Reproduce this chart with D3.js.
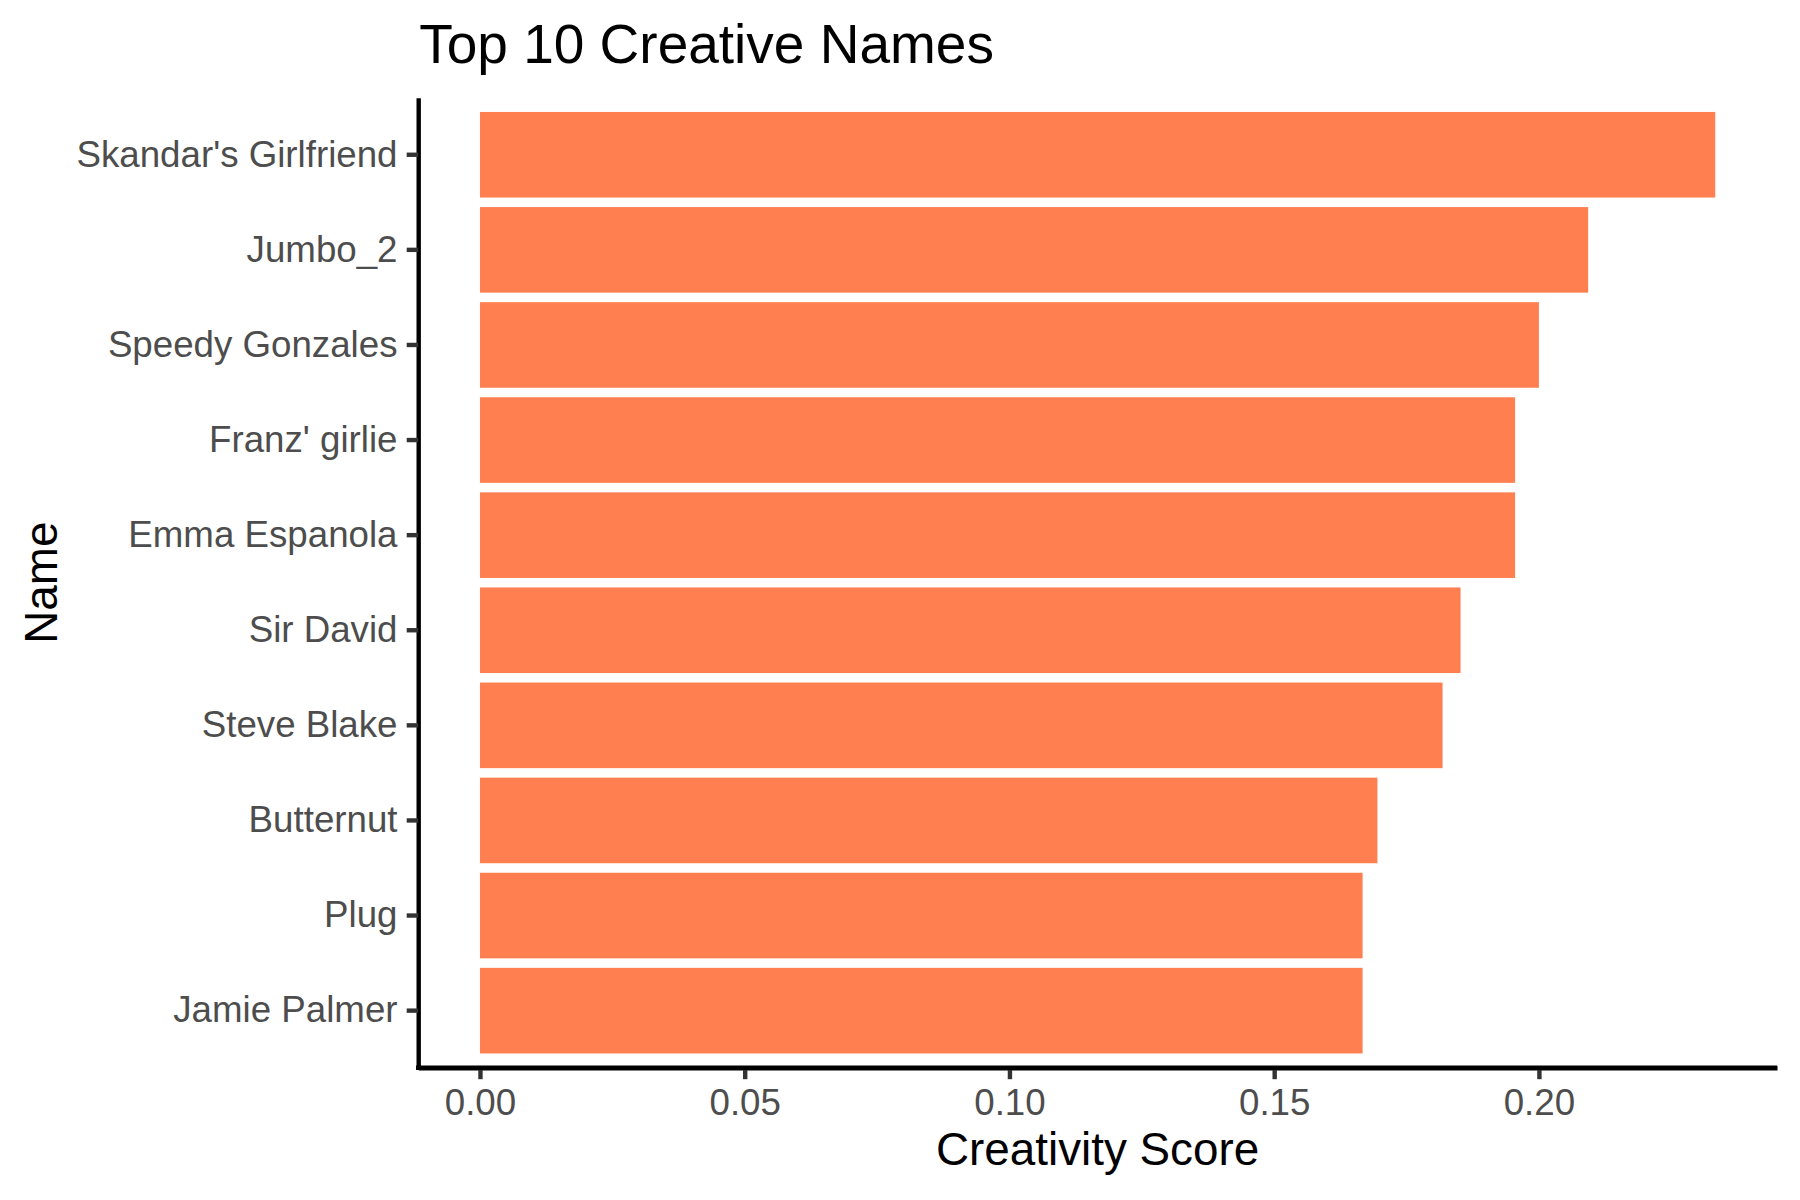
<!DOCTYPE html>
<html>
<head>
<meta charset="utf-8">
<script src="https://cdn.jsdelivr.net/npm/d3@7"></script>
<style>
  html, body { margin: 0; padding: 0; background: #ffffff; }
  svg { display: block; }
  text { font-family: "Liberation Sans", Arial, Helvetica, sans-serif; }
</style>
</head>
<body>
<svg id="chart" width="1800" height="1200"></svg>
<script>
// ---- data ----
const names = [
  "Skandar's Girlfriend", "Jumbo_2", "Speedy Gonzales", "Franz' girlie",
  "Emma Espanola", "Sir David", "Steve Blake", "Butternut", "Plug", "Jamie Palmer"
];
const scores = [0.2333, 0.2093, 0.2000, 0.1955, 0.1955, 0.1852, 0.1818, 0.1695, 0.1667, 0.1667];
const xTicks = [0.00, 0.05, 0.10, 0.15, 0.20];
const xTickLabels = ["0.00", "0.05", "0.10", "0.15", "0.20"];
const titleText = "Top 10 Creative Names";
const xTitle = "Creativity Score";
const yTitle = "Name";

// ---- layout ----
const panel = { left: 418.2, right: 1777, top: 97.7, bottom: 1067.7 };
const barColor = "#FF7F50";
const tickLen = 11.5;
const lineW = 4.4;

const svg = d3.select("#chart");
svg.append("rect").attr("width", 1800).attr("height", 1200).attr("fill", "#ffffff");

const maxV = d3.max(scores);
const expand = maxV * 0.05;
const x = d3.scaleLinear()
  .domain([0 - expand, maxV + expand])
  .range([panel.left, panel.right]);

const y = d3.scaleBand()
  .domain(names)
  .range([panel.top, panel.bottom])
  .paddingInner(0.1)
  .paddingOuter(0.15);

// bars
svg.append("g").selectAll("rect")
  .data(names.map((n, i) => ({ name: n, value: scores[i] })))
  .join("rect")
  .attr("x", d => x(0))
  .attr("y", d => y(d.name))
  .attr("width", d => x(d.value) - x(0))
  .attr("height", y.bandwidth())
  .attr("fill", barColor);

// x axis
const xAxis = d3.axisBottom(x)
  .tickValues(xTicks)
  .tickFormat((d, i) => xTickLabels[i])
  .tickSizeInner(tickLen)
  .tickSizeOuter(0)
  .tickPadding(9.5);
const gx = svg.append("g")
  .attr("transform", `translate(0,${panel.bottom})`)
  .call(xAxis);
gx.select(".domain").attr("stroke", "#000000").attr("stroke-width", lineW).attr("stroke-linecap", "butt");
gx.selectAll(".tick line").attr("stroke", "#333333").attr("stroke-width", lineW)
  .attr("y1", lineW / 2 - 2);
gx.selectAll(".tick text")
  .attr("fill", "#4D4D4D")
  .style("font-family", "'Liberation Sans', Arial, sans-serif")
  .style("font-size", "36.7px");

// y axis
const yAxis = d3.axisLeft(y)
  .tickSizeInner(tickLen)
  .tickSizeOuter(0)
  .tickPadding(9.2);
const gy = svg.append("g")
  .attr("transform", `translate(${panel.left},0)`)
  .call(yAxis);
gy.select(".domain").attr("stroke", "#000000").attr("stroke-width", lineW).attr("stroke-linecap", "butt");
gy.selectAll(".tick line").attr("stroke", "#333333").attr("stroke-width", lineW);
gy.selectAll(".tick text")
  .attr("fill", "#4D4D4D")
  .style("font-family", "'Liberation Sans', Arial, sans-serif")
  .style("font-size", "36.7px");

// redraw the x domain line on top so corner is solid
svg.append("line")
  .attr("x1", panel.left - lineW / 2).attr("x2", panel.right)
  .attr("y1", panel.bottom).attr("y2", panel.bottom)
  .attr("stroke", "#000000").attr("stroke-width", lineW);

// title
svg.append("text")
  .attr("x", panel.left + 1)
  .attr("y", 63)
  .attr("fill", "#000000")
  .style("font-size", "55px")
  .text(titleText);

// x title
svg.append("text")
  .attr("x", (panel.left + panel.right) / 2)
  .attr("y", 1165)
  .attr("text-anchor", "middle")
  .attr("fill", "#000000")
  .style("font-size", "45.8px")
  .text(xTitle);

// y title
svg.append("text")
  .attr("transform", `translate(56.5,${(panel.top + panel.bottom) / 2}) rotate(-90)`)
  .attr("text-anchor", "middle")
  .attr("fill", "#000000")
  .style("font-size", "45.8px")
  .text(yTitle);
</script>
</body>
</html>
